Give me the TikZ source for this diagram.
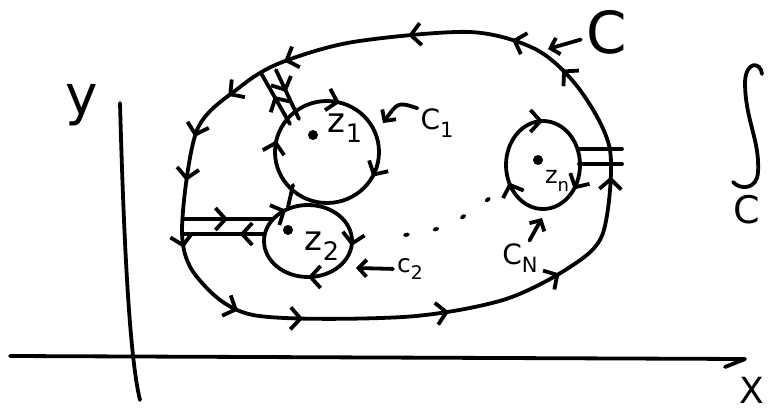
\documentclass[tikz,border=0pt]{standalone}
\usepackage{fontspec}
\setsansfont{DejaVu Sans}
\usetikzlibrary{arrows.meta,decorations.markings}
\tikzset{chev/.tip={Straight Barb[length=10pt,width=22pt]}}
\pgfkeys{/pgf/decoration/chevs/.style={mark=at position #1 with {\arrow{chev}}}}
\newcommand{\idx}[1]{\raisebox{-0.3em}{\scalebox{0.75}{#1}}}

\begin{document}
\begin{tikzpicture}[x=1pt,y=-1pt,
    ink/.style={line width=3.8pt,line cap=round,line join=round},
    flow/.style={postaction={decorate,decoration={markings,chevs/.list={#1}}}},
    ptr/.style={ink,-{Straight Barb[length=8pt,width=17pt]}},
    lbl/.style={font=\sffamily\fontsize{#1}{#1}\selectfont,inner sep=0pt},
    spot/.style={circle,fill,inner sep=0pt,minimum size=10pt}
  ]
  \useasboundingbox (0,0) rectangle (768,412);

  % axes
  \coordinate (ytop) at (120,103);
  \coordinate (ybot) at (140,400);
  \coordinate (xl) at (10,356);
  \coordinate (xr) at (745,359);
  \draw[ink] (ytop) .. controls (124,250) and (130,360) .. (ybot);
  \draw[ink] (xl) -- (xr) -- ++(-20,8);
  \node[lbl=55] (ylab) at (82,105) {y};
  \node[lbl=36] (xlab) at (752,390) {X};

  % outer contour C
  \draw[ink,flow={0.023,0.073,0.162,0.27,0.326,0.372,0.41,0.467,0.54,0.596,0.72,0.82,0.92}]
    plot[smooth cycle] coordinates {(610,150) (580,90) (537,50) (470,32) (353,42) (280,63)
      (240,87) (197,130) (182,230) (197,277) (253,315) (403,317) (503,300) (570,267) (603,233)};

  % small contours
  \coordinate (c1) at (327,152);
  \coordinate (c2) at (308,241);
  \coordinate (cn) at (543,165);
  \draw[ink,flow={0.08,0.536,0.79}] (c1) ellipse [x radius=52,y radius=51];
  \draw[ink,flow={0.02,0.25,0.66}] (c2) ellipse [x radius=44,y radius=36];
  \draw[ink,flow={0.1,0.43,0.75}] (cn) ellipse [x radius=37,y radius=44];

  % cuts
  \coordinate (ua1) at (261,73);  \coordinate (ua2) at (290,124);
  \coordinate (ub1) at (276,70);  \coordinate (ub2) at (299,119);
  \draw[ink,flow={0.55}] (ua2) -- (ua1);
  \draw[ink,flow={0.45}] (ub1) -- (ub2);
  \coordinate (la1) at (183,219); \coordinate (la2) at (273,219);
  \coordinate (lb1) at (183,234); \coordinate (lb2) at (264,234);
  \draw[ink,flow={0.5}] (la1) -- (la2);
  \draw[ink,flow={0.3}] (lb2) -- (lb1);
  \coordinate (mc1) at (293,185); \coordinate (mc2) at (288,207);
  \draw[ink] (mc1) -- (mc2);
  \coordinate (ra1) at (578,149); \coordinate (ra2) at (622,149);
  \coordinate (rb1) at (579,164); \coordinate (rb2) at (622,164);
  \draw[ink] (ra1) -- (ra2);
  \draw[ink] (rb1) -- (rb2);

  % points
  \node[spot] (z1) at (313,135) {};
  \node[spot] (z2) at (288,230) {};
  \node[spot] (zn) at (538,160) {};
  \node[lbl=34] (z1lab) at (345,128) {z\idx{1}};
  \node[lbl=34] (z2lab) at (322,246) {z\idx{2}};
  \node[lbl=24] (znlab) at (557,181) {z\idx{n}};

  % dots between C2 and CN
  \coordinate (dotA) at (405,235);
  \coordinate (dotB) at (490,198);
  \draw[ink,dash pattern=on 3pt off 27pt] (dotA) .. controls (448,228) .. (dotB);

  % labels
  \node[lbl=58] (Clab) at (607,32) {C};
  \node[lbl=28] (C1lab) at (437,123) {C\idx{1}};
  \node[lbl=25] (c2lab) at (410,269) {c\idx{2}};
  \node[lbl=28] (CNlab) at (520,258) {C\idx{N}};
  \coordinate (Cpt) at (548,49);
  \coordinate (C1pt) at (383,123);
  \coordinate (c2pt) at (356,268);
  \coordinate (CNpt) at (542,218);
  \draw[ptr,shorten <=6pt] (Clab) -- (Cpt);
  \draw[ptr] ([xshift=-3pt]C1lab.north west) .. controls (398,102) .. (C1pt);
  \draw[ptr,shorten <=4pt] (c2lab.west) -- (c2pt);
  \draw[ptr,shorten <=3pt] ([xshift=8pt]CNlab.north) -- (CNpt);

  % integral over C
  \coordinate (itop) at (762,74);
  \coordinate (ibot) at (733,182);
  \draw[ink] (itop) .. controls (761,62) and (746,60) .. (745,82)
    .. controls (745,120) and (760,140) .. (758,172)
    .. controls (757,190) and (740,190) .. (ibot);
  \node[lbl=38] (intC) at (747,210) {C};
\end{tikzpicture}
\end{document}
